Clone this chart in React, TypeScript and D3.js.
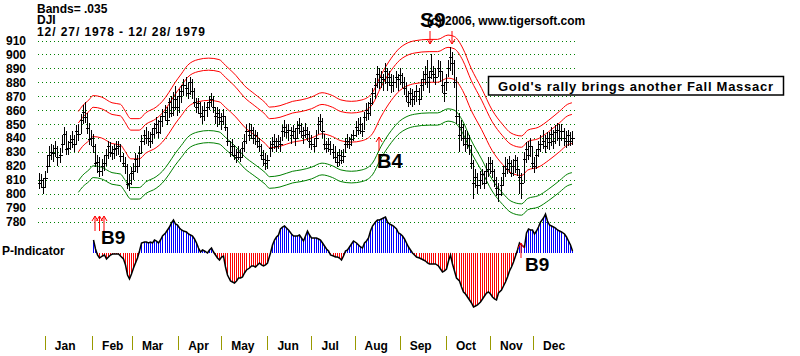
import React from 'react';
import * as d3 from 'd3';

// Daily DJI bars, 12/27/1978 .. 12/28/1979 (trading-day index 0..254)
const closes = [
  808,810,805,811,820,828,830,829,833,826,828,836,843,832,833,837,839,836,845,843,853,859,855,847,839,
  840,834,822,823,816,820,822,828,834,830,829,832,833,834,827,822,820,807,808,
  815,816,825,820,829,838,842,840,840,838,843,847,850,844,852,856,859,853,866,858,862,868,
  862,870,874,878,876,872,880,874,866,862,865,858,856,860,862,866,868,862,856,858,
  855,852,856,848,838,830,834,828,826,830,826,833,838,845,842,846,840,842,838,834,828,825,
  822,824,833,836,838,834,838,836,845,848,844,846,842,845,840,847,849,845,842,846,843,
  838,836,834,840,850,852,845,836,833,836,832,830,826,823,828,824,827,836,838,836,839,
  842,848,846,850,845,855,860,858,865,872,878,886,880,884,882,888,880,884,878,880,884,882,885,
  880,876,870,866,872,868,870,874,868,878,882,886,880,884,888,886,884,890,888,
  878,872,880,890,898,894,880,856,842,848,840,836,840,835,822,808,812,806,810,814,808,816,818,
  822,816,810,804,800,806,815,820,818,822,815,820,824,818,812,808,825,832,828,834,822,
  820,828,832,836,838,834,840,837,843,838,844,846,840,845,840,838,842,838,840,
];
const highs = [
  815,814,811,816,828,834,836,835,838,834,833,842,848,845,838,842,845,842,849,850,857,864,866,858,851,
  846,843,836,828,826,825,828,832,838,837,834,836,838,838,836,829,826,821,814,
  819,822,829,828,834,842,846,848,845,844,847,851,855,853,856,861,864,862,869,870,873,877,
  870,875,878,882,884,880,884,882,876,869,869,866,863,866,866,870,872,870,862,862,
  861,858,861,856,847,838,839,835,832,834,832,837,843,850,851,850,848,846,844,840,836,831,
  829,828,838,841,843,840,842,841,849,853,850,850,848,849,847,852,854,851,848,851,848,
  845,842,840,846,855,857,854,843,838,840,838,836,834,830,832,831,832,840,843,841,843,
  846,852,854,855,851,859,865,866,869,876,883,892,890,888,886,894,890,888,886,885,888,886,890,
  887,884,880,874,876,875,874,878,876,882,888,892,896,888,900,892,890,896,895,
  888,880,886,896,905,902,896,884,858,853,850,846,845,842,834,824,818,815,816,818,816,822,826,
  826,824,818,812,808,812,820,826,825,827,824,825,828,826,818,815,830,837,838,840,834,
  826,832,838,842,846,842,844,844,848,846,849,851,850,850,847,845,846,844,845,
];
const lows = [
  803,804,800,805,815,820,824,823,826,820,822,829,835,828,828,831,833,830,836,838,843,850,851,843,835,
  834,829,819,815,812,813,816,820,825,826,824,825,827,828,823,819,814,803,802,
  806,810,816,815,820,829,835,836,834,833,836,840,843,840,843,848,852,849,854,855,856,860,
  856,858,865,870,870,868,871,868,862,858,857,854,850,852,855,860,862,858,850,848,
  849,846,849,845,834,826,827,824,822,824,823,826,830,836,838,839,836,835,833,830,824,820,
  817,818,826,830,832,830,832,830,838,841,840,838,836,839,834,840,843,840,836,840,838,
  833,831,830,834,843,845,840,831,829,830,828,825,822,819,820,821,822,829,833,832,834,
  838,841,842,843,841,846,852,853,856,864,868,876,875,876,874,879,874,877,872,873,876,874,878,
  876,871,866,862,864,862,864,866,864,868,874,878,876,872,882,880,878,884,880,
  872,866,874,884,888,885,876,850,830,838,834,830,832,828,818,796,804,800,803,806,803,808,812,
  814,811,805,798,794,798,806,812,814,815,812,813,815,813,800,796,808,822,824,826,818,
  815,818,826,830,832,829,832,831,834,832,836,838,834,838,834,833,834,834,835,
];

// 21-day moving average (index, value)
const maIdx = [19,21,24,26,30,35,39,41,44,48,51,56,59,62,65,68,71,76,81,86,89,94,98,103,108,110,115,121,125,130,135,140,144,149,154,159,163,168,172,175,179,186,190,195,198,202,206,211,216,221,225,230,233,238,243,248,252,254];
const maVal = [830,834,838,841,840,836,835,831,825,825,829,833,837,843,850,856,862,866,867,866,862,855,848,842,836,833,834,837,838,840,843,841,838,837,838,843,855,867,874,877,879,880,880,883,882,874,860,846,831,821,815,813,817,819,824,830,835,836];
const bandFactors = [1.035, 1.025, 1, 0.975, 0.965];
const bandColors = ['#ff0000', '#ff0000', '#ff0000', '#008000', '#008000'];

// P-Indicator, daily from index 26
const pStart = 26;
const pVals = [
  13,4,-2,-5,-3,-2,-6,-4,-2,-1,
  -1,-1,-1,-3,-6,-12,-22,-26,-21,-15,
  -10,-5,2,10,11,11,10,11,10,13,
  12,10,13,17,20,23,26,30,33,29,
  28,25,23,22,21,19,18,17,14,10,
  5,1,3,2,0,3,5,1,-2,-5,
  -7,-4,-3,-14,-22,-28,-29,-30,-28,-25,
  -25,-24,-20,-17,-15,-13,-13,-14,-12,-10,
  -12,-13,-12,-10,0,8,13,16,18,24,
  26,27,25,23,19,17,17,17,18,15,
  12,17,22,18,15,15,15,14,13,10,
  7,4,2,-2,-3,-4,-4,-5,-7,-3,
  2,3,6,9,12,10,8,6,5,10,
  12,15,22,27,31,33,33,34,35,36,
  31,29,28,27,24,20,19,17,14,10,
  6,3,0,-2,-4,-5,-6,-7,-8,-10,
  -11,-11,-11,-11,-13,-16,-19,-18,-16,-8,
  -2,-11,-18,-25,-28,-34,-39,-41,-44,-47,
  -50,-54,-53,-52,-49,-46,-43,-40,-39,-41,
  -44,-46,-47,-40,-37,-33,-29,-24,-18,-14,
  -9,-3,3,10,8,6,20,24,23,23,
  19,22,26,31,35,39,32,28,27,26,
  25,23,22,21,19,16,12,8,2,
];

const yTicks = [910,900,890,880,870,860,850,840,830,820,810,800,790,780];
const months = ['Jan','Feb','Mar','Apr','May','Jun','Jul','Aug','Sep','Oct','Nov','Dec'];
const monthIdx = [3,25.5,44.5,66.5,87,109,130,150.5,172,194,215,235.5];

const FONT = '"Liberation Sans", Arial, sans-serif';

function Arrow({ x, tip, tail }: { x: number; tip: number; tail: number }) {
  const dir = tail > tip ? 1 : -1;
  const d = `M${x},${tail}L${x},${tip}M${x - 3},${tip + 5 * dir}L${x},${tip}L${x + 3},${tip + 5 * dir}`;
  return <path d={d} stroke="#ff0000" strokeWidth={1} fill="none" />;
}

export default function App() {
  const x = d3.scaleLinear().domain([0, 254]).range([38.5, 571.9]);
  const y = d3.scaleLinear().domain([780, 910]).range([221.5, 40.5]);
  const p = d3.scaleLinear().domain([-60, 40]).range([313, 213]);
  const px = (i: number) => Math.round(x(i)) + 0.5;

  const maPts: [number, number][] = maIdx.map((d, k) => [d, maVal[k]]);
  const bandLines = bandFactors.map((f) =>
    d3.line<[number, number]>()
      .x((d) => x(d[0]))
      .y((d) => y(d[1] * f))
      .curve(d3.curveMonotoneX)(maPts) as string
  );

  const pPts: [number, number][] = pVals.map((v, k) => [pStart + k, v]);
  const pLine = d3.line<[number, number]>().x((d) => px(d[0])).y((d) => p(d[1]))(pPts) as string;

  return (
    <svg width={800} height={356} style={{ position: 'absolute', left: 0, top: 0, background: '#fff' }}
      fontFamily={FONT} fontWeight="bold">
      <rect x={0} y={0} width={800} height={356} fill="#fff" />
      {/* header */}
      <text x={37} y={12.5} fontSize={12}>Bands= .035</text>
      <text x={37} y={24} fontSize={12}>DJI</text>
      <text x={37} y={35.5} fontSize={12} textLength={168} lengthAdjust="spacing">12/ 27/ 1978 - 12/ 28/ 1979</text>

      {/* grid + y labels */}
      {yTicks.map((t) => (
        <g key={t}>
          <line x1={38} x2={575} y1={Math.round(y(t)) + 0.5} y2={Math.round(y(t)) + 0.5}
            stroke="#008000" strokeDasharray="1,3" strokeWidth={1} />
          <text x={6} y={y(t) + 4.5} fontSize={12}>{t}</text>
        </g>
      ))}

      {/* bands */}
      {bandLines.map((d, k) => (
        <path key={k} d={d} fill="none" stroke={bandColors[k]} strokeWidth={1} />
      ))}

      {/* price bars */}
      <g stroke="#000" strokeWidth={1} shapeRendering="crispEdges">
        {closes.map((c, i) => (
          <g key={i}>
            <line x1={px(i)} x2={px(i)} y1={y(highs[i])} y2={y(lows[i])} />
            <line x1={px(i) - 2} x2={px(i) + 2.5} y1={Math.round(y(c)) + 0.5} y2={Math.round(y(c)) + 0.5} />
          </g>
        ))}
      </g>

      {/* P-Indicator */}
      <text x={2} y={255} fontSize={12}>P-Indicator</text>
      <g strokeWidth={1} shapeRendering="crispEdges">
        {pPts.map(([i, v]) => (
          <line key={i} x1={px(i)} x2={px(i)} y1={p(0)} y2={p(v)} stroke={v >= 0 ? '#0000ff' : '#ff0000'} />
        ))}
      </g>
      <path d={pLine} fill="none" stroke="#000" strokeWidth={1.5} />

      {/* months */}
      {months.map((m, k) => (
        <g key={m}>
          <line x1={px(monthIdx[k])} x2={px(monthIdx[k])} y1={336} y2={350} stroke="#999900" strokeWidth={1} />
          <text x={x(monthIdx[k]) + 10} y={350} fontSize={12}>{m}</text>
        </g>
      ))}

      {/* signals */}
      <Arrow x={95} tip={216} tail={231} />
      <Arrow x={99.5} tip={216} tail={231} />
      <Arrow x={104} tip={216} tail={231} />
      <text x={101} y={244} fontSize={19}>B9</text>
      <Arrow x={379} tip={137} tail={151} />
      <text x={377} y={168} fontSize={20}>B4</text>
      <Arrow x={430} tip={44} tail={31} />
      <Arrow x={452} tip={44} tail={31} />
      <Arrow x={521} tip={243} tail={258} />
      <text x={525} y={271} fontSize={19}>B9</text>

      <text x={427} y={25} fontSize={12}>(c) 2006, www.tigersoft.com</text>
      <text x={420} y={27} fontSize={21}>S9</text>

      <rect x={488.5} y={76.5} width={295} height={18.5} fill="#fff" stroke="#000" strokeWidth={1.5} />
      <text x={498} y={90.5} fontSize={13} textLength={275} lengthAdjust="spacing">Gold's rally brings another Fall Massacr</text>
    </svg>
  );
}
